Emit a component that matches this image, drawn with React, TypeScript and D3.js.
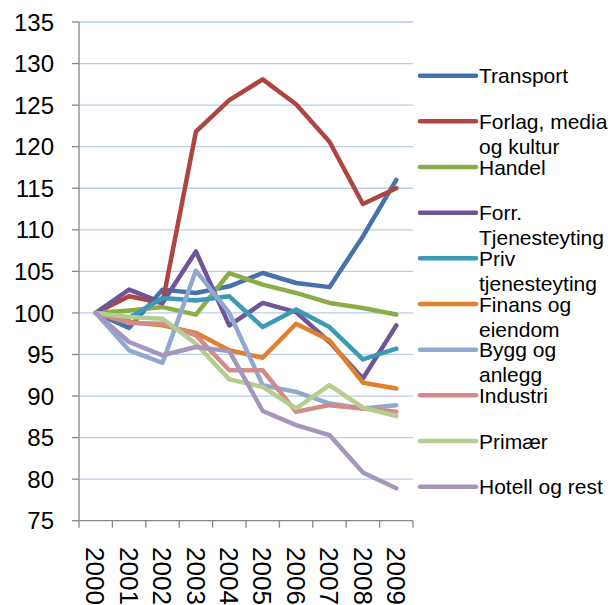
import React from 'react';
import * as d3 from 'd3';

const years = ['2000', '2001', '2002', '2003', '2004', '2005', '2006', '2007', '2008', '2009'];
const yTicks = [75, 80, 85, 90, 95, 100, 105, 110, 115, 120, 125, 130, 135];

const seriesNames = [
  'Transport', 'Forlag, media og kultur', 'Handel', 'Forr. Tjenesteyting', 'Priv tjenesteyting',
  'Finans og eiendom', 'Bygg og anlegg', 'Industri', 'Primær', 'Hotell og rest',
];
const legendLines = [
  ['Transport'], ['Forlag, media', 'og kultur'], ['Handel'], ['Forr.', 'Tjenesteyting'], ['Priv', 'tjenesteyting'],
  ['Finans og', 'eiendom'], ['Bygg og', 'anlegg'], ['Industri'], ['Primær'], ['Hotell og rest'],
];
const colors = ['#4672AC', '#AE4540', '#88AE4A', '#6E5597', '#3C9AB4', '#E0812F', '#91A9D0', '#D38B89', '#B5CD8E', '#A596BE'];

const transport = [100, 98.2, 102.8, 102.4, 103.2, 104.8, 103.6, 103.1, 109.2, 116.0];
const forlag = [100, 102.0, 101.2, 121.8, 125.6, 128.1, 125.1, 120.6, 113.1, 115.0];
const handel = [100, 100.3, 100.7, 99.8, 104.8, 103.4, 102.4, 101.2, 100.6, 99.8];
const forr = [100, 102.8, 101.2, 107.4, 98.5, 101.2, 100.1, 96.5, 92.1, 98.5];
const priv = [100, 99.4, 101.8, 101.5, 102.0, 98.3, 100.4, 98.3, 94.4, 95.7];
const finans = [100, 98.9, 98.5, 97.6, 95.5, 94.6, 98.7, 96.7, 91.6, 90.9];
const bygg = [100, 95.5, 94.0, 105.1, 100.0, 91.3, 90.5, 89.1, 88.5, 88.9];
const industri = [100, 98.8, 98.7, 97.3, 93.1, 93.1, 88.1, 88.9, 88.5, 88.1];
const primaer = [100, 99.5, 99.3, 96.3, 92.0, 91.1, 88.5, 91.3, 88.6, 87.6];
const hotell = [100, 96.5, 94.9, 95.9, 95.4, 88.2, 86.5, 85.3, 80.8, 78.9];

const seriesValues = [transport, forlag, handel, forr, priv, finans, bygg, industri, primaer, hotell];

const font = '"Liberation Sans", Arial, sans-serif';

export default function App() {
  const width = 613;
  const height = 605;
  const x = d3.scaleBand<string>().domain(years).range([79, 413]);
  const y = d3.scaleLinear().domain([75, 135]).range([520.7, 22]);
  const cx = (yr: string) => (x(yr) ?? 0) + x.bandwidth() / 2;

  const line = d3.line<number>()
    .x((_, i) => cx(years[i]))
    .y(d => y(d));

  const legendY = d3.scaleLinear().domain([0, 9]).range([75.7, 486.7]);

  return (
    <svg width={width} height={height} style={{ position: 'absolute', left: 0, top: 0, background: '#fff' }}
      fontFamily={font}>
      {/* gridlines */}
      {yTicks.filter(t => t > 75).map(t => (
        <line key={t} x1={79} x2={413} y1={y(t)} y2={y(t)} stroke="#B9CDE5" strokeWidth={1.3} />
      ))}
      {/* y axis */}
      <line x1={79} x2={79} y1={y(135)} y2={y(75)} stroke="#868686" strokeWidth={1.3} />
      {yTicks.map(t => (
        <g key={t}>
          <line x1={72} x2={79} y1={y(t)} y2={y(t)} stroke="#868686" strokeWidth={1.3} />
          <text x={54} y={y(t)} dy="0.36em" textAnchor="end" fontSize={24} fill="#000">{t}</text>
        </g>
      ))}
      {/* x axis */}
      <line x1={79} x2={413} y1={y(75)} y2={y(75)} stroke="#868686" strokeWidth={1.3} />
      {years.concat(['end']).map((yr, i) => {
        const px = i < years.length ? (x(yr) ?? 0) : 413;
        return <line key={yr} x1={px} x2={px} y1={y(75)} y2={y(75) + 7} stroke="#868686" strokeWidth={1.3} />;
      })}
      {years.map(yr => (
        <text key={yr} transform={`translate(${cx(yr)},547) rotate(90)`} dy="0.36em" fontSize={26} fill="#000">{yr}</text>
      ))}
      {/* series */}
      {seriesValues.map((vals, i) => (
        <path key={seriesNames[i]} d={line(vals) ?? ''} fill="none" stroke={colors[i]} strokeWidth={4.5}
          strokeLinejoin="round" strokeLinecap="round" />
      ))}
      {/* legend */}
      {seriesNames.map((name, i) => (
        <g key={name}>
          <line x1={420} x2={476} y1={legendY(i)} y2={legendY(i)} stroke={colors[i]} strokeWidth={4.5} strokeLinecap="round" />
          {legendLines[i].map((txt, j) => (
            <text key={j} x={479} y={legendY(i) + j * 25} dy="0.36em" fontSize={21} fill="#000">{txt}</text>
          ))}
        </g>
      ))}
    </svg>
  );
}
